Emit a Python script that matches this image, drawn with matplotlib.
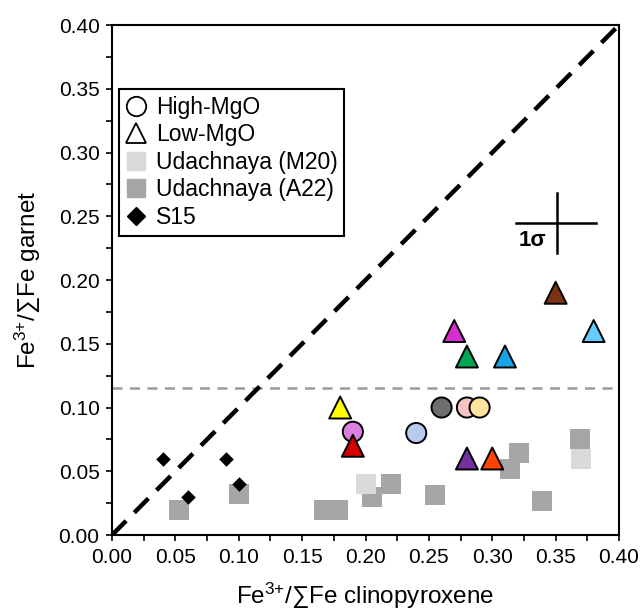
import matplotlib
matplotlib.use("Agg")
import matplotlib.pyplot as plt
from matplotlib.lines import Line2D

plt.rcParams['font.family'] = ['Liberation Sans', 'DejaVu Sans']
plt.rcParams['mathtext.fontset'] = 'custom'
plt.rcParams['mathtext.rm'] = 'Liberation Sans'

# High-MgO (circles)
hi_x = [0.19, 0.24, 0.26, 0.28, 0.29]
hi_y = [0.081, 0.080, 0.100, 0.100, 0.100]
hi_c = ['#DD7FE0', '#B7CBEE', '#6E6E6E', '#F6C3C3', '#FFE29E']

# Low-MgO (triangles)
lo_x = [0.18, 0.19, 0.28, 0.30, 0.27, 0.28, 0.31, 0.35, 0.38]
lo_y = [0.10, 0.07, 0.06, 0.06, 0.16, 0.14, 0.14, 0.19, 0.16]
lo_c = ['#FFFF00', '#D40000', '#7030A0', '#FF4500', '#D62ED0',
        '#00A651', '#1AA3E8', '#7A3510', '#66CCFF']

# Udachnaya (A22)
a22_x = [0.053, 0.100, 0.167, 0.178, 0.205, 0.220, 0.255, 0.314, 0.321, 0.339, 0.369]
a22_y = [0.020, 0.032, 0.020, 0.020, 0.030, 0.040, 0.031, 0.052, 0.064, 0.027, 0.075]

# Udachnaya (M20)
m20_x = [0.200, 0.370]
m20_y = [0.040, 0.060]

# S15
s15_x = [0.04, 0.06, 0.09, 0.10]
s15_y = [0.06, 0.03, 0.06, 0.04]

fig = plt.figure(figsize=(6.42, 6.12), dpi=100)
ax = fig.add_axes([0.1745, 0.1258, 0.7897, 0.8333])

ax.plot([0, 0.4], [0, 0.4], color='black', lw=3.2, ls=(0, (4.5, 2.6)), zorder=2)
ax.axhline(0.115, color='#9a9a9a', lw=1.8, ls=(0, (4, 3)), zorder=1)

ax.scatter(a22_x, a22_y, marker='s', s=210, color='#A6A6A6', lw=0, zorder=3)
ax.scatter(m20_x, m20_y, marker='s', s=210, color='#D9D9D9', lw=0, zorder=3)
ax.scatter(s15_x, s15_y, marker='D', s=55, color='black', lw=0, zorder=4)
ax.scatter(hi_x, hi_y, marker='o', s=210, c=hi_c, edgecolors='black', linewidths=1.4, zorder=5)
ax.scatter(lo_x, lo_y, marker='^', s=250, c=lo_c, edgecolors='black', linewidths=1.4, zorder=5)

# 1 sigma cross
ax.plot([0.319, 0.382], [0.2445, 0.2445], color='black', lw=1.8)
ax.plot([0.351, 0.351], [0.221, 0.268], color='black', lw=1.8)
ax.text(0.332, 0.231, '1σ', fontsize=16, fontweight='bold', ha='center', va='center')

ax.set_xlim(0, 0.4)
ax.set_ylim(0, 0.4)
ticks = [0, 0.05, 0.10, 0.15, 0.20, 0.25, 0.30, 0.35, 0.40]
ax.set_xticks(ticks)
ax.set_yticks(ticks)
ax.set_xticks([0.025 + 0.05 * i for i in range(8)], minor=True)
ax.set_yticks([0.025 + 0.05 * i for i in range(8)], minor=True)
ax.set_xticklabels([f'{t:.2f}' for t in ticks])
ax.set_yticklabels([f'{t:.2f}' for t in ticks])
ax.tick_params(which='both', direction='out', length=4, width=1.2, labelsize=15, pad=5)
for sp in ax.spines.values():
    sp.set_linewidth(1.5)

ax.set_xlabel(r'Fe$\mathregular{^{3{+}}}$/∑Fe clinopyroxene', fontsize=17.5, labelpad=10)
ax.set_ylabel(r'Fe$\mathregular{^{3{+}}}$/∑Fe garnet', fontsize=17.5, labelpad=11)

handles = [
    Line2D([], [], marker='o', ls='', markerfacecolor='white', markeredgecolor='black', markersize=14, markeredgewidth=1.3),
    Line2D([], [], marker='^', ls='', markerfacecolor='white', markeredgecolor='black', markersize=15, markeredgewidth=1.3),
    Line2D([], [], marker='s', ls='', color='#D9D9D9', markersize=13),
    Line2D([], [], marker='s', ls='', color='#A6A6A6', markersize=13),
    Line2D([], [], marker='D', ls='', color='black', markersize=9),
]
labels = ['High-MgO', 'Low-MgO', 'Udachnaya (M20)', 'Udachnaya (A22)', 'S15']
leg = ax.legend(handles, labels, loc='upper left', bbox_to_anchor=(0.014, 0.875),
                borderaxespad=0, fontsize=16.5, frameon=True, fancybox=False,
                edgecolor='black', framealpha=1, handlelength=0.9,
                handletextpad=0.4, labelspacing=0.2, borderpad=0.3)
leg.get_frame().set_linewidth(1.5)

fig.savefig('out.png', dpi=100)
